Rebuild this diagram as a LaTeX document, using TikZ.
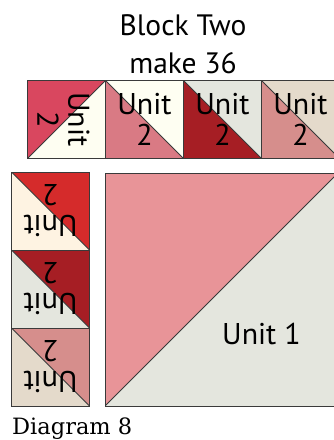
\documentclass[tikz,border=0pt]{standalone}
\usepackage{fontspec}
\setmainfont{PT Sans}
\newfontfamily\captionfont{DejaVu Serif}
\usepackage{xcolor}
\usetikzlibrary{positioning}
\definecolor{edge}{HTML}{3A3A3A}
\definecolor{crimson}{HTML}{D9475F}
\definecolor{cream}{HTML}{FEFEF2}
\definecolor{rose}{HTML}{D97A84}
\definecolor{wine}{HTML}{A61E24}
\definecolor{sage}{HTML}{E4E6DE}
\definecolor{dusty}{HTML}{D68E8C}
\definecolor{linen}{HTML}{E4DACB}
\definecolor{scarlet}{HTML}{D52B2B}
\definecolor{ivory}{HTML}{FEF3E2}
\definecolor{blush}{HTML}{E89498}

\begin{document}
\begin{tikzpicture}[
    x=1pt, y=-1pt,
    node distance=0pt,
    unit/.style={draw=edge, line width=0.9pt, minimum size=78pt, inner sep=0pt, outer sep=0pt},
    % diagonal from top left to bottom right: #1 upper right, #2 lower left
    hsa/.style 2 args={unit, path picture={
        \fill[#1] (path picture bounding box.north west) -- (path picture bounding box.north east)
                  -- (path picture bounding box.south east) -- cycle;
        \fill[#2] (path picture bounding box.north west) -- (path picture bounding box.south west)
                  -- (path picture bounding box.south east) -- cycle;
        \draw[edge, line width=0.8pt] (path picture bounding box.north west) -- (path picture bounding box.south east);}},
    % diagonal from bottom left to top right: #1 upper left, #2 lower right
    hsb/.style 2 args={unit, path picture={
        \fill[#1] (path picture bounding box.north west) -- (path picture bounding box.north east)
                  -- (path picture bounding box.south west) -- cycle;
        \fill[#2] (path picture bounding box.north east) -- (path picture bounding box.south east)
                  -- (path picture bounding box.south west) -- cycle;
        \draw[edge, line width=0.8pt] (path picture bounding box.south west) -- (path picture bounding box.north east);}},
    lbl/.style={font=\fontsize{30}{31}\selectfont, align=center, inner sep=0pt},
  ]
  \useasboundingbox (0,0) rectangle (334,440);
  \clip (0,0) rectangle (334,440);

  \node[lbl, font=\fontsize{29.5}{38}\selectfont] (title) at (183,44) {Block Two\\make 36};

  % top row
  \node[hsb={crimson}{cream}] (top1) at (66.5,119.5) {};
  \node[hsa={cream}{rose}, right=of top1]   (top2) {};
  \node[hsa={sage}{wine}, right=of top2]    (top3) {};
  \node[hsa={linen}{dusty}, right=of top3]  (top4) {};

  % left column
  \node[hsa={scarlet}{ivory}] (left1) at (50.5,211) {};
  \node[hsa={wine}{sage}, below=of left1]   (left2) {};
  \node[hsa={dusty}{linen}, below=of left2] (left3) {};

  % big square
  \node[hsb={blush}{sage}, minimum size=233pt, anchor=north west] (big) at (105,173) {};

  \node[lbl, rotate=-90] (top1l) at ([xshift=-3pt]top1.center) {Unit\\2};
  \node[lbl] (top2l) at (top2.center) {Unit\\2};
  \node[lbl] (top3l) at (top3.center) {Unit\\2};
  \node[lbl] (top4l) at (top4.center) {Unit\\2};
  \node[lbl, rotate=180] (left1l) at (left1.center) {Unit\\2};
  \node[lbl, rotate=180] (left2l) at (left2.center) {Unit\\2};
  \node[lbl, rotate=180] (left3l) at (left3.center) {Unit\\2};
  \node[lbl] (bigl) at ([xshift=40pt,yshift=-44pt]big.center) {Unit 1};

  \node[font=\captionfont\fontsize{22.5}{25}\selectfont, anchor=base west, inner sep=0pt] (caption) at (12,434.5) {Diagram 8};
\end{tikzpicture}
\end{document}
